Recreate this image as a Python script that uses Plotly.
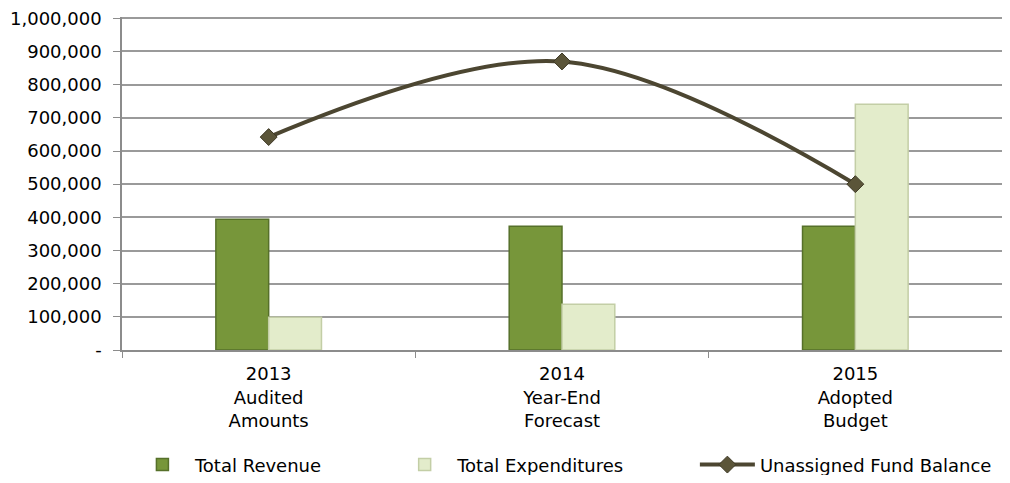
import plotly.graph_objects as go

categories = ["2013<br>Audited<br>Amounts", "2014<br>Year-End<br>Forecast", "2015<br>Adopted<br>Budget"]
total_revenue = [394000, 373000, 373000]
total_expenditures = [99000, 138000, 741000]
unassigned_balance = [642000, 870000, 500000]
y_ticks = [0, 100000, 200000, 300000, 400000, 500000, 600000, 700000, 800000, 900000, 1000000]
y_ticktext = ["-", "100,000", "200,000", "300,000", "400,000", "500,000", "600,000", "700,000", "800,000", "900,000", "1,000,000"]

FONT = "DejaVu Sans, Liberation Sans, Arial, sans-serif"
FS = 18

fig = go.Figure()
fig.add_trace(go.Bar(
    x=categories, y=total_revenue, name="Total Revenue",
    marker=dict(color="#77963A", line=dict(color="#56702A", width=1.5)),
    legend="legend",
))
fig.add_trace(go.Bar(
    x=categories, y=total_expenditures, name="Total Expenditures",
    marker=dict(color="#E3ECCB", line=dict(color="#C3CEA6", width=1.5)),
    legend="legend2",
))
fig.add_trace(go.Scatter(
    x=categories, y=unassigned_balance, name="Unassigned Fund Balance",
    mode="lines+markers",
    line=dict(color="#4C4631", width=4, shape="spline", smoothing=1.0),
    marker=dict(symbol="diamond", size=13, color="#5B5539", line=dict(color="#3E3926", width=1)),
    legend="legend3",
))

legend_common = dict(orientation="h", yanchor="middle", y=-0.345, xanchor="left",
                     font=dict(family=FONT, size=FS, color="#000000"),
                     bgcolor="rgba(0,0,0,0)", itemwidth=55)

fig.update_layout(
    width=994, height=467,
    margin=dict(l=114, r=0, t=9, b=125, autoexpand=False),
    paper_bgcolor="white", plot_bgcolor="white",
    barmode="group", bargap=0.64, bargroupgap=0.0,
    font=dict(family=FONT, size=FS, color="#000000"),
    legend=dict(x=0.009, **legend_common),
    legend2=dict(x=0.307, **legend_common),
    legend3=dict(x=0.651, **legend_common),
    showlegend=True,
)
fig.update_yaxes(
    range=[0, 1004000], tickvals=y_ticks, ticktext=y_ticktext,
    showgrid=True, gridcolor="#9A9A9A", gridwidth=1.5,
    showline=True, linecolor="#8C8C8C", linewidth=1.5,
    ticks="outside", ticklen=7, tickcolor="#8C8C8C", ticklabelstandoff=8,
    ticklabeloverflow="allow",
    tickfont=dict(family=FONT, size=FS, color="#000000"),
    zeroline=False, automargin=False,
)
fig.update_xaxes(
    showline=True, linecolor="#8C8C8C", linewidth=1.5, mirror=False,
    ticks="outside", ticklen=6, tickcolor="#8C8C8C", tickson="boundaries",
    ticklabelstandoff=7,
    tickfont=dict(family=FONT, size=FS, color="#000000"),
    showgrid=False, automargin=False,
)

fig.write_html("out.html")
